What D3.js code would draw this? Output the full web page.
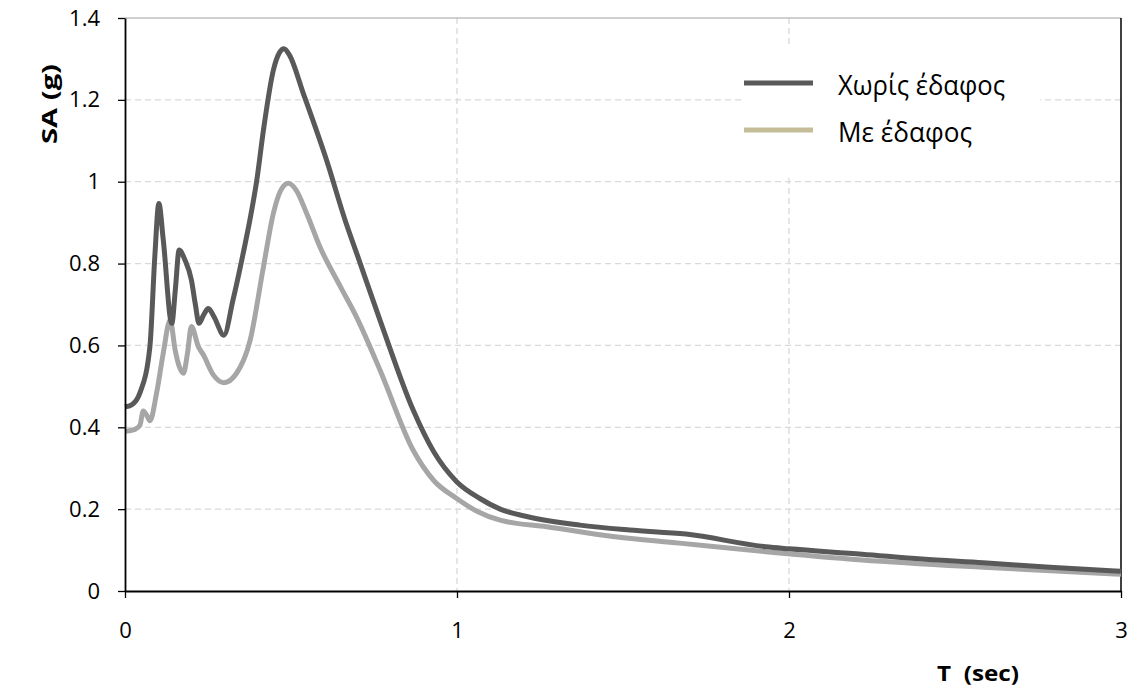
<!DOCTYPE html>
<html>
<head>
<meta charset="utf-8">
<script src="https://cdn.jsdelivr.net/npm/d3@7"></script>
<style>
  html, body { margin: 0; padding: 0; background: #fff; }
  svg { display: block; font-family: "Open Sans", "DejaVu Sans", sans-serif; }
</style>
</head>
<body>
<svg id="chart" width="1130" height="697"></svg>
<script>
// Response spectra: period T (sec) vs spectral acceleration SA (g)
const periodsBare = [0, 0.02, 0.045, 0.075, 0.09, 0.102, 0.115, 0.141, 0.152, 0.163, 0.18, 0.2, 0.212, 0.223, 0.237, 0.251, 0.268, 0.298, 0.325, 0.356, 0.377, 0.397, 0.417, 0.447, 0.465, 0.479, 0.495, 0.537, 0.607, 0.663, 0.7, 0.768, 0.868, 0.93, 0.999, 1.069, 1.13, 1.21, 1.37, 1.52, 1.69, 1.93, 2.0, 2.22, 2.4, 2.585, 2.786, 3.0];
const saBare      = [0.45, 0.455, 0.484, 0.597, 0.82, 0.947, 0.86, 0.654, 0.74, 0.833, 0.81, 0.76, 0.70, 0.654, 0.675, 0.69, 0.67, 0.625, 0.71, 0.825, 0.91, 1.004, 1.126, 1.273, 1.315, 1.325, 1.31, 1.216, 1.053, 0.906, 0.82, 0.662, 0.442, 0.34, 0.267, 0.226, 0.20, 0.182, 0.161, 0.149, 0.139, 0.108, 0.103, 0.090, 0.078, 0.069, 0.058, 0.048];

const periodsSoil = [0, 0.03, 0.045, 0.055, 0.065, 0.075, 0.095, 0.115, 0.136, 0.151, 0.165, 0.176, 0.188, 0.2, 0.221, 0.236, 0.266, 0.298, 0.336, 0.377, 0.417, 0.447, 0.47, 0.492, 0.515, 0.547, 0.587, 0.648, 0.7, 0.768, 0.868, 0.93, 0.999, 1.06, 1.13, 1.27, 1.47, 1.67, 1.93, 2.22, 2.585, 3.0];
const saSoil      = [0.39, 0.395, 0.405, 0.44, 0.43, 0.416, 0.483, 0.58, 0.662, 0.589, 0.545, 0.532, 0.58, 0.646, 0.597, 0.577, 0.528, 0.509, 0.532, 0.613, 0.792, 0.923, 0.98, 0.996, 0.98, 0.923, 0.841, 0.745, 0.665, 0.54, 0.344, 0.27, 0.226, 0.195, 0.173, 0.157, 0.133, 0.117, 0.096, 0.076, 0.058, 0.041];

const xTicks = [0, 1, 2, 3];
const yTicks = [0, 0.2, 0.4, 0.6, 0.8, 1, 1.2, 1.4];

const seriesNames = ["Χωρίς έδαφος", "Με έδαφος"];
const lineColors = ["#595959", "#a6a6a6"];
const legendColors = ["#595959", "#c4bd97"];

const svg = d3.select("#chart");
const plot = { left: 125, right: 1121, top: 18, bottom: 591 };

const x = d3.scaleLinear().domain([0, 3]).range([plot.left, plot.right]);
const y = d3.scaleLinear().domain([0, 1.4]).range([plot.bottom, plot.top]);

// dashed gridlines
const grid = svg.append("g");
grid.selectAll("line.h").data(yTicks.filter(v => v > 0 && v < 1.4)).join("line")
  .attr("class", "h")
  .attr("x1", plot.left).attr("x2", plot.right)
  .attr("y1", d => y(d)).attr("y2", d => y(d))
  .attr("stroke", "#d9d9d9").attr("stroke-width", 1.3).attr("stroke-dasharray", "6,4");
grid.selectAll("line.v").data(xTicks.filter(v => v > 0 && v < 3)).join("line")
  .attr("class", "v")
  .attr("y1", plot.top).attr("y2", plot.bottom)
  .attr("x1", d => x(d)).attr("x2", d => x(d))
  .attr("stroke", "#d9d9d9").attr("stroke-width", 1.3).attr("stroke-dasharray", "6,4");

// plot frame (top and right)
svg.append("line").attr("x1", plot.left).attr("x2", plot.right).attr("y1", plot.top).attr("y2", plot.top)
  .attr("stroke", "#a0a0a0").attr("stroke-width", 1);
svg.append("line").attr("x1", plot.right).attr("x2", plot.right).attr("y1", plot.top).attr("y2", plot.bottom)
  .attr("stroke", "#000").attr("stroke-width", 1.5);

// legend background hides the grid behind it
svg.append("rect").attr("x", 745).attr("y", 45).attr("width", 295).attr("height", 130).attr("fill", "#fff");

// curves
const line = d3.line().x(d => x(d[0])).y(d => y(d[1])).curve(d3.curveMonotoneX);
const soil = d3.zip(periodsSoil, saSoil);
const bare = d3.zip(periodsBare, saBare);
svg.append("path").datum(soil).attr("d", line).attr("fill", "none")
  .attr("stroke", lineColors[1]).attr("stroke-width", 5).attr("stroke-linejoin", "round");
svg.append("path").datum(bare).attr("d", line).attr("fill", "none")
  .attr("stroke", lineColors[0]).attr("stroke-width", 5).attr("stroke-linejoin", "round");

// axes
const xAxis = d3.axisBottom(x).tickValues(xTicks).tickFormat(d3.format("d")).tickSizeInner(7).tickSizeOuter(0).tickPadding(24);
const gx = svg.append("g").attr("transform", `translate(0,${plot.bottom})`).call(xAxis);
gx.attr("font-family", null).attr("font-size", null);
gx.select(".domain").attr("stroke", "#000").attr("stroke-width", 1.8);
gx.selectAll(".tick line").attr("stroke", "#000").attr("stroke-width", 1.3);
gx.selectAll("text").attr("font-size", 22).attr("fill", "#000");

const yAxis = d3.axisLeft(y).tickValues(yTicks).tickFormat(d => String(+d.toFixed(1))).tickSizeInner(7).tickSizeOuter(0).tickPadding(18);
const gy = svg.append("g").attr("transform", `translate(${plot.left},0)`).call(yAxis);
gy.attr("font-family", null).attr("font-size", null);
gy.select(".domain").attr("stroke", "#000").attr("stroke-width", 1.8);
gy.selectAll(".tick line").attr("stroke", "#000").attr("stroke-width", 1.3);
gy.selectAll("text").attr("font-size", 22).attr("fill", "#000");

// axis titles
svg.append("text").attr("transform", "translate(57,104) rotate(-90)")
  .attr("text-anchor", "middle").attr("font-size", 21).attr("font-weight", "bold")
  .attr("textLength", 80).attr("lengthAdjust", "spacingAndGlyphs").text("SA (g)");
svg.append("text").attr("x", 978).attr("y", 681)
  .attr("text-anchor", "middle").attr("font-size", 22).attr("font-weight", "bold")
  .attr("textLength", 82).attr("lengthAdjust", "spacingAndGlyphs")
  .style("white-space", "pre").text("T  (sec)");

// legend
const legend = svg.append("g");
const legendWidths = [167, 134];
seriesNames.forEach((name, i) => {
  const ly = 83 + i * 47;
  legend.append("line").attr("x1", 744).attr("x2", 813).attr("y1", ly).attr("y2", ly)
    .attr("stroke", legendColors[i]).attr("stroke-width", 5);
  legend.append("text").attr("x", 838).attr("y", ly + 12).attr("font-size", 27).attr("fill", "#000")
    .attr("textLength", legendWidths[i]).attr("lengthAdjust", "spacingAndGlyphs").text(name);
});
</script>
</body>
</html>
